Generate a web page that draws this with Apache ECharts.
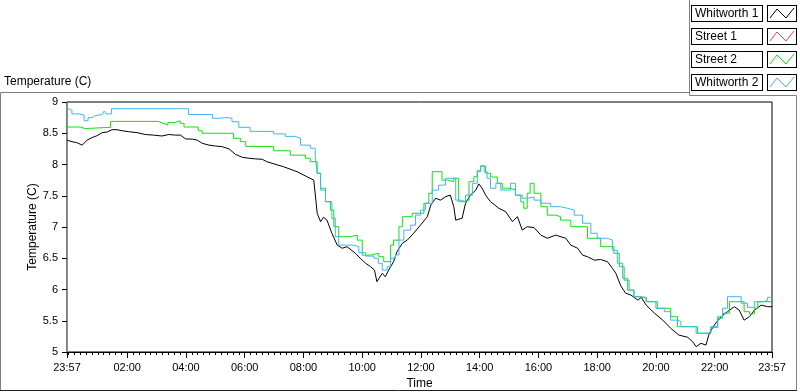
<!DOCTYPE html>
<html>
<head>
<meta charset="utf-8">
<script src="https://cdn.jsdelivr.net/npm/echarts@6.0.0/dist/echarts.min.js"></script>
<style>
  html, body { margin: 0; padding: 0; background: #fff; }
  #chart { width: 800px; height: 392px; }
</style>
</head>
<body>
<div id="chart"></div>
<script>
  // time is in minutes from the start of the log (23:57)
  const seriesNames = ['Whitworth 1', 'Street 1', 'Street 2', 'Whitworth 2'];
  const seriesColors = ['#000000', '#ff4040', '#10e010', '#40b4f4'];

  const majorTicks = [0, 123, 243, 363, 483, 603, 723, 843, 963, 1083, 1203, 1323, 1440];

  const w1Min = [0,10,20,31,41,51,61,72,82,92,102,113,126,143,160,177,194,208,222,232,242,256,266,276,290,303,317,331,344,358,372,385,399,408,442,470,490,504,509,511,518,524,531,541,552,562,572,589,599,610,620,628,633,644,650,657,667,674,685,695,708,722,736,743,753,763,773,783,790,794,807,814,824,835,841,848,855,865,882,896,910,920,930,940,954,968,981,998,1019,1029,1043,1053,1063,1077,1090,1104,1114,1121,1131,1141,1152,1166,1173,1183,1200,1217,1233,1250,1268,1278,1285,1295,1305,1312,1322,1336,1349,1363,1373,1383,1394,1404,1418,1431,1440];
  const w1Temp = [8.39,8.365,8.35,8.31,8.39,8.43,8.46,8.51,8.52,8.557,8.557,8.54,8.525,8.51,8.48,8.47,8.456,8.48,8.47,8.47,8.41,8.405,8.39,8.34,8.31,8.296,8.285,8.25,8.163,8.115,8.10,8.09,8.083,8.045,7.965,7.885,7.805,7.75,7.38,7.22,7.085,7.155,7.11,6.90,6.71,6.66,6.685,6.58,6.50,6.42,6.365,6.31,6.125,6.26,6.205,6.31,6.445,6.605,6.74,6.79,6.90,7.03,7.165,7.35,7.46,7.43,7.485,7.51,7.325,7.11,7.14,7.38,7.51,7.59,7.69,7.62,7.51,7.405,7.30,7.245,7.085,7.165,6.95,7.005,6.99,6.87,6.82,6.87,6.82,6.71,6.66,6.55,6.525,6.47,6.48,6.445,6.34,6.26,6.06,5.94,5.91,5.83,5.875,5.75,5.62,5.51,5.38,5.27,5.235,5.165,5.085,5.14,5.11,5.30,5.43,5.565,5.645,5.725,5.67,5.51,5.565,5.67,5.75,5.725,5.725];

  // Street 1 is not visible in the picture (hidden under Street 2)
  const st1Min = [];
  const st1Temp = [];

  const st2Min = [0,27,37,89,186,196,206,221,231,239,268,276,340,354,365,422,456,487,497,511,518,528,538,545,555,579,593,603,620,637,647,661,667,678,685,705,729,739,746,766,777,790,800,811,821,831,838,845,855,865,879,889,906,916,927,933,940,946,954,968,981,998,1008,1029,1063,1090,1117,1128,1138,1148,1158,1165,1183,1203,1233,1247,1288,1315,1329,1339,1353,1383,1394,1404,1411,1440];
  const st2Temp = [8.60,8.575,8.595,8.69,8.66,8.63,8.67,8.70,8.66,8.60,8.54,8.50,8.42,8.365,8.29,8.22,8.15,8.10,8.045,7.86,7.62,7.405,7.27,7.005,6.845,6.87,6.79,6.55,6.58,6.525,6.445,6.71,6.79,7.005,7.165,7.22,7.38,7.54,7.885,7.75,7.725,7.78,7.405,7.43,7.725,7.805,7.90,7.975,7.86,7.80,7.70,7.62,7.59,7.51,7.40,7.30,7.54,7.70,7.54,7.325,7.19,7.165,7.11,7.005,6.82,6.685,6.58,6.365,6.15,5.99,5.885,5.875,5.805,5.70,5.565,5.405,5.30,5.395,5.54,5.62,5.805,5.645,5.61,5.70,5.805,5.805];

  const w2Min = [0,4,10,25,35,43,51,57,72,76,80,91,248,297,309,327,337,351,374,422,446,466,477,497,507,511,518,528,541,548,555,585,596,610,627,636,644,654,661,671,678,688,702,712,722,732,746,759,773,794,804,814,828,838,845,852,858,865,876,886,906,916,930,940,954,968,988,1008,1022,1036,1053,1070,1083,1104,1114,1124,1135,1145,1158,1172,1183,1206,1220,1233,1247,1254,1285,1315,1329,1339,1349,1377,1390,1404,1424,1431,1440];
  const w2Temp = [8.90,8.87,8.81,8.79,8.70,8.75,8.78,8.80,8.81,8.856,8.81,8.893,8.80,8.74,8.75,8.74,8.685,8.595,8.53,8.49,8.45,8.42,8.31,8.26,8.125,7.86,7.59,7.405,7.14,6.845,6.71,6.685,6.59,6.535,6.50,6.42,6.31,6.365,6.50,6.555,6.79,6.95,7.03,7.19,7.27,7.38,7.59,7.67,7.78,7.43,7.405,7.51,7.70,7.885,7.98,7.885,7.78,7.62,7.70,7.59,7.70,7.51,7.46,7.48,7.43,7.38,7.325,7.30,7.27,7.19,7.06,6.90,6.82,6.79,6.63,6.42,6.18,5.99,5.885,5.86,5.805,5.70,5.645,5.51,5.485,5.405,5.30,5.405,5.565,5.70,5.885,5.78,5.715,5.805,5.83,5.875,5.895];

  const font = "'Liberation Sans', Arial, sans-serif";

  // minor ticks every 12 minutes of clock time (clock 00:00 = 3 min after start)
  let minorTicks = [];
  for (let m = 3; m <= 1440; m += 12) minorTicks.push(m);

  function clockLabel(v) {
    let c = (Math.round(v) - 3 + 1440) % 1440;
    let h = Math.floor(c / 60), mm = c % 60;
    return (h < 10 ? '0' : '') + h + ':' + (mm < 10 ? '0' : '') + mm;
  }

  function pairs(xs, ys) {
    return xs.map(function (x, i) { return [x, ys[i]]; });
  }

  function legendIcon(color) {
    let svg = '<svg xmlns="http://www.w3.org/2000/svg" width="30" height="17">' +
      '<rect x="0.5" y="0.5" width="29" height="16" fill="#fff" stroke="#000"/>' +
      '<polyline points="3,13 10,4 19,13 27,3" fill="none" stroke="' + color + '" stroke-width="1"/></svg>';
    return 'image://data:image/svg+xml;charset=utf-8,' + encodeURIComponent(svg);
  }

  let chart = echarts.init(document.getElementById('chart'));
  let option = {
    backgroundColor: '#fff',
    animation: false,
    title: {
      text: 'Temperature (C)',
      left: 4, top: 76, padding: 0,
      textStyle: { fontSize: 12, fontWeight: 'normal', color: '#000', fontFamily: font }
    },
    legend: {
      orient: 'vertical',
      right: 3, top: 5, padding: 0,
      align: 'right',
      itemWidth: 30, itemHeight: 17, itemGap: 6,
      selectedMode: false,
      formatter: '{a|{name}}',
      textStyle: {
        fontSize: 12, color: '#000', fontFamily: font,
        rich: {
          a: {
            width: 64, align: 'left', lineHeight: 12,
            padding: [2, 3, 1, 3],
            borderColor: '#000', borderWidth: 1, backgroundColor: '#fff',
            fontSize: 12, color: '#000', fontFamily: font
          }
        }
      },
      data: seriesNames.map(function (n, i) { return { name: n, icon: legendIcon(seriesColors[i]) }; })
    },
    grid: {
      left: 67, top: 102, width: 705, height: 250,
      outerBoundsMode: 'none',
      show: true, borderColor: '#000', borderWidth: 1, backgroundColor: '#fff'
    },
    xAxis: [
      {
        type: 'value', min: 0, max: 1440, position: 'bottom',
        name: 'Time', nameLocation: 'middle', nameGap: 26, nameMoveOverlap: false,
        nameTextStyle: { fontSize: 12, color: '#000', fontFamily: font },
        axisLine: { show: true, lineStyle: { color: '#000', width: 1 } },
        axisTick: { show: true, customValues: majorTicks, length: 6, lineStyle: { color: '#000' } },
        axisLabel: { customValues: majorTicks, formatter: clockLabel, margin: 10, fontSize: 11, color: '#000', fontFamily: font },
        splitLine: { show: false }
      },
      {
        type: 'value', min: 0, max: 1440, position: 'bottom', offset: 0,
        axisLine: { show: true, lineStyle: { color: '#000', width: 1 } },
        axisTick: { show: true, customValues: minorTicks, length: 3, lineStyle: { color: '#000' } },
        axisLabel: { show: false },
        splitLine: { show: false }
      }
    ],
    yAxis: [
      {
        type: 'value', min: 5, max: 9, interval: 0.5,
        name: 'Temperature (C)', nameLocation: 'middle', nameGap: 28, nameRotate: 90, nameMoveOverlap: false,
        nameTextStyle: { fontSize: 12, color: '#000', fontFamily: font },
        axisLine: { show: true, lineStyle: { color: '#000' } },
        axisTick: { show: true, length: 5, lineStyle: { color: '#000' } },
        axisLabel: { margin: 9, fontSize: 11, color: '#000', fontFamily: font },
        splitLine: { show: false }
      },
      {
        type: 'value', min: 5, max: 9, position: 'right',
        axisLine: { show: true, lineStyle: { color: '#8c8c8c' } },
        axisTick: { show: false }, axisLabel: { show: false }, splitLine: { show: false }
      }
    ],
    graphic: [
      { type: 'polyline', silent: true, shape: { points: [[0.5, 391], [0.5, 92.5], [689.5, 92.5]] }, style: { stroke: '#808080', fill: null, lineWidth: 1 } },
      { type: 'polyline', silent: true, shape: { points: [[689.5, 0], [689.5, 95.5], [796.5, 95.5], [796.5, 391]] }, style: { stroke: '#808080', fill: null, lineWidth: 1 } },
      { type: 'line', silent: true, shape: { x1: 0, y1: 390.5, x2: 797, y2: 390.5 }, style: { stroke: '#202020', lineWidth: 1 } }
    ],
    series: [
      { name: seriesNames[0], type: 'line', data: pairs(w1Min, w1Temp), showSymbol: false, silent: true,
        color: seriesColors[0], lineStyle: { color: seriesColors[0], width: 1 } },
      { name: seriesNames[1], type: 'line', data: pairs(st1Min, st1Temp), showSymbol: false, silent: true, step: 'end',
        color: seriesColors[1], lineStyle: { color: seriesColors[1], width: 1 } },
      { name: seriesNames[2], type: 'line', data: pairs(st2Min, st2Temp), showSymbol: false, silent: true, step: 'end',
        color: seriesColors[2], lineStyle: { color: seriesColors[2], width: 1 } },
      { name: seriesNames[3], type: 'line', data: pairs(w2Min, w2Temp), showSymbol: false, silent: true, step: 'end',
        color: seriesColors[3], lineStyle: { color: seriesColors[3], width: 1 } }
    ]
  };
  chart.setOption(option);
</script>
</body>
</html>
